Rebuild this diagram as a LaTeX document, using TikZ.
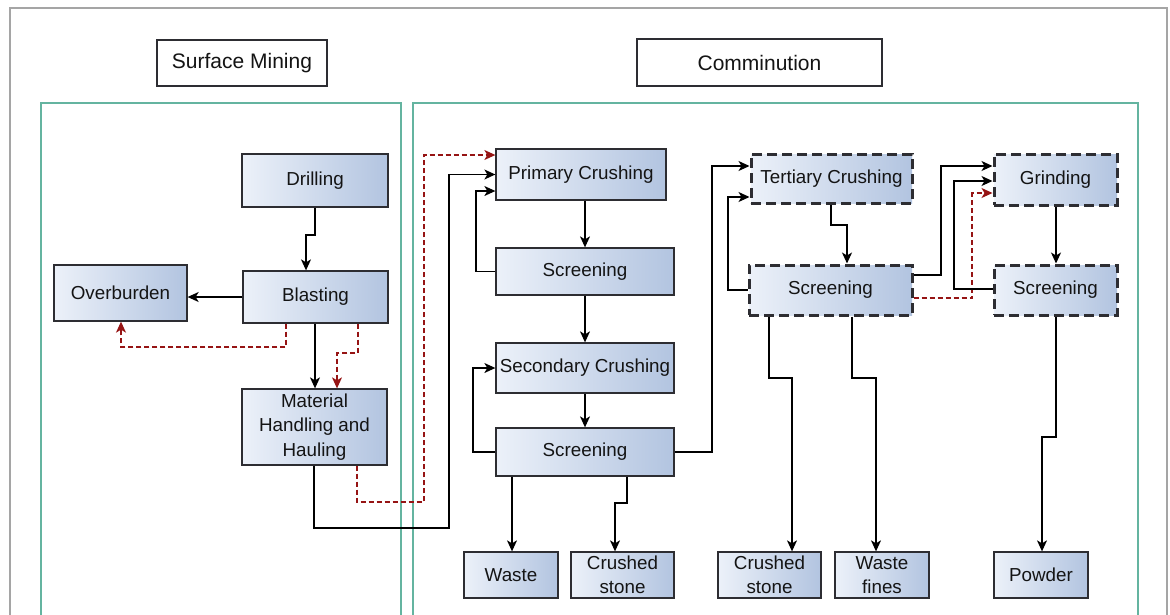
\documentclass[tikz,border=0pt]{standalone}
\usepackage{fontspec}
\setmainfont{Liberation Sans}
\usetikzlibrary{arrows.meta}
\definecolor{boxL}{RGB}{236,241,249}
\definecolor{boxR}{RGB}{178,196,224}
\definecolor{boxline}{RGB}{45,45,50}
\definecolor{txt}{RGB}{20,20,20}
\definecolor{panel}{RGB}{100,180,160}
\definecolor{frame}{RGB}{165,165,165}
\definecolor{dred}{RGB}{150,20,20}
\newcommand\boxfont{\fontsize{18.8}{24.5}\selectfont}
\newcommand\titlefont{\fontsize{21}{25}\selectfont}
\tikzset{
  box/.style={draw=boxline, line width=1.3pt, left color=boxL, right color=boxR,
    inner sep=0pt, align=center, font=\boxfont, text=txt},
  dbox/.style={box, line width=3pt, dash pattern=on 10pt off 5pt},
  title/.style={draw=boxline, line width=1.2pt, fill=white, inner sep=0pt,
    font=\titlefont, text=txt},
  arr/.style={draw=black, line width=1.3pt, -{Stealth[length=11pt,width=10pt,inset=3pt]}},
  rarr/.style={draw=dred, line width=1.2pt, dash pattern=on 5pt off 3pt,
    -{Stealth[length=11pt,width=10pt,inset=3pt,sep=0pt]}},
  pan/.style={draw=panel, line width=1.3pt, fill=white}
}
\begin{document}
\begin{tikzpicture}[x=1pt,y=-1pt]
\useasboundingbox (0,0) rectangle (1170,614);
% outer frame
\draw[frame, line width=1.5pt] (10,640) -- (10,8) -- (1167,8) -- (1167,640);
% panels
\draw[pan] (41,640) -- (41,103) -- (401,103) -- (401,640);
\draw[pan] (413,640) -- (413,103) -- (1138,103) -- (1138,640);
% titles
\node[title, minimum width=170pt, minimum height=46pt] (surf) at (242,63) {Surface Mining};
\node[title, minimum width=245pt, minimum height=47pt] (comm) at (759.5,62.5) {Comminution};
% surface mining boxes
\node[box, minimum width=146pt, minimum height=53pt] (drill) at (315,180.5) {Drilling};
\node[box, minimum width=145pt, minimum height=52pt] (blast) at (315.5,297) {Blasting};
\node[box, minimum width=133pt, minimum height=56pt] (over) at (120.5,293) {Overburden};
\node[box, minimum width=145pt, minimum height=76pt] (mat) at (314.5,427) {Material\\Handling and\\Hauling};
% comminution boxes
\node[box, minimum width=170pt, minimum height=51pt] (prim) at (581,174.5) {Primary Crushing};
\node[box, minimum width=178pt, minimum height=47pt] (scr1) at (585,271.5) {Screening};
\node[box, minimum width=178pt, minimum height=50pt] (sec) at (585,368) {Secondary Crushing};
\node[box, minimum width=178pt, minimum height=48pt] (scr2) at (585,452) {Screening};
\node[dbox, minimum width=161pt, minimum height=49pt] (tert) at (831.5,178.5) {Tertiary Crushing};
\node[dbox, minimum width=163pt, minimum height=50pt] (scr3) at (830.5,290) {Screening};
\node[dbox, minimum width=123pt, minimum height=51pt] (grind) at (1055.5,179.5) {Grinding};
\node[dbox, minimum width=123pt, minimum height=50pt] (scr4) at (1055.5,290) {Screening};
% products
\node[box, minimum width=94pt, minimum height=46pt] (waste) at (511,575) {Waste};
\node[box, minimum width=103pt, minimum height=46pt] (cs1) at (622.5,575) {Crushed\\stone};
\node[box, minimum width=103pt, minimum height=46pt] (cs2) at (769.5,575) {Crushed\\stone};
\node[box, minimum width=94pt, minimum height=46pt] (wf) at (882,575) {Waste\\fines};
\node[box, minimum width=94pt, minimum height=46pt] (powder) at (1041,575) {Powder};
% --- surface mining connectors
\draw[arr] (315,0 |- drill.south) -- (315,235) -- (306,235) -- (306,0 |- blast.north);
\draw[arr] (blast.west) -- (blast.west -| over.east);
\draw[rarr] (286,0 |- blast.south) -- (286,347) -- (121,347) -- (121,0 |- over.south);
\draw[arr] (315,0 |- blast.south) -- (315,0 |- mat.north);
\draw[rarr] (358,0 |- blast.south) -- (358,353) -- (337,353) -- (337,0 |- mat.north);
\draw[arr] (314,0 |- mat.south) -- (314,528) -- (449,528) -- (449,174.5) -- (prim.west);
\draw[rarr] (357,0 |- mat.south) -- (357,502) -- (424,502) -- (424,155) -- (prim.west |- 0,155);
% --- primary/secondary
\draw[arr] (585,0 |- prim.south) -- (scr1.north);
\draw[arr] (scr1.west) -- (476,271.5) -- (476,191) -- (prim.west |- 0,191);
\draw[arr] (scr1.south) -- (sec.north);
\draw[arr] (sec.south) -- (scr2.north);
\draw[arr] (scr2.west) -- (473,452) -- (473,368) -- (sec.west);
\draw[arr] (scr2.east) -- (712,452) -- (712,166) -- (tert.west |- 0,166);
\draw[arr] (512,0 |- scr2.south) -- (512,0 |- waste.north);
\draw[arr] (627,0 |- scr2.south) -- (627,503) -- (615,503) -- (615,0 |- cs1.north);
% --- tertiary / grinding
\draw[arr] (831,0 |- tert.south) -- (831,225) -- (847,225) -- (847,0 |- scr3.north);
\draw[arr] (scr3.west) -- (728,290) -- (728,197) -- (tert.west |- 0,197);
\draw[arr] (scr3.east |- 0,275) -- (941,275) -- (941,166) -- (grind.west |- 0,166);
\draw[rarr] (scr3.east |- 0,298) -- (972,298) -- (972,193) -- (grind.west |- 0,193);
\draw[arr] (1056,0 |- grind.south) -- (1056,0 |- scr4.north);
\draw[arr] (scr4.west |- 0,289) -- (954,289) -- (954,181) -- (grind.west |- 0,181);
\draw[arr] (769,0 |- scr3.south) -- (769,378) -- (792,378) -- (792,0 |- cs2.north);
\draw[arr] (852,0 |- scr3.south) -- (852,378) -- (876,378) -- (876,0 |- wf.north);
\draw[arr] (1056,0 |- scr4.south) -- (1056,437) -- (1042,437) -- (1042,0 |- powder.north);
\end{tikzpicture}
\end{document}
